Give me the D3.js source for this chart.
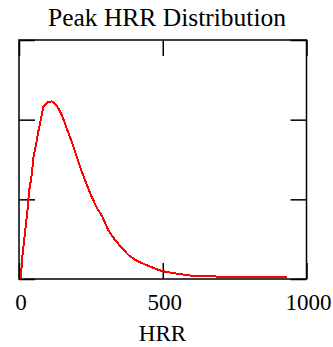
<!DOCTYPE html>
<html>
<head>
<meta charset="utf-8">
<script src="https://cdn.jsdelivr.net/npm/d3@7"></script>
<style>
	body { margin: 0; background: #fff; }
</style>
</head>
<body>
<div id="chart"></div>
<script>
// Data
var hrrValues = [5, 6, 12, 21, 29, 35, 44, 50, 59, 67, 77, 85, 99, 114, 131, 149, 166, 184, 201, 218, 236, 253, 270, 290, 311, 334, 358, 381, 404, 439, 474, 497, 544, 602, 700, 800, 933];
var density = [0, 0.00001, 0.00030, 0.00059, 0.00084, 0.00110, 0.00130, 0.00152, 0.00168, 0.00185, 0.00202, 0.00216, 0.00222, 0.00223, 0.00218, 0.00206, 0.00189, 0.00172, 0.00153, 0.00135, 0.00118, 0.00103, 0.00090, 0.00078, 0.00061, 0.00049, 0.00039, 0.00030, 0.00024, 0.00018, 0.00013, 0.00010, 0.00007, 0.00004, 0.00003, 0.00003, 0.00003];
var xTicks = [0, 500, 1000];
var xTickLabels = ["0", "500", "1000"];
var yTicks = [0, 0.001, 0.002, 0.003];
var title = "Peak HRR Distribution";
var xTitle = "HRR";

//Width and height
var w = 333;
var h = 347;
var plotLeft = 19, plotRight = 306.5, plotTop = 40, plotBottom = 279;
var tick = 16;
var serif = "'Liberation Serif', 'Times New Roman', Times, serif";

var svg = d3.select("#chart")
	.append("svg")
	.attr("width", w)
	.attr("height", h);

var x = d3.scaleLinear().domain([0, 1000]).range([plotLeft, plotRight]);
var y = d3.scaleLinear().domain([0, 0.003]).range([plotBottom, plotTop]);

// inside ticks on all four sides
function styleAxis(g) {
	g.select(".domain").remove();
	g.selectAll("line").attr("stroke", "#000").attr("stroke-width", 1.5);
	g.selectAll("text").remove();
}

svg.append("g")
	.attr("transform", "translate(0," + plotBottom + ")")
	.call(d3.axisBottom(x).tickValues(xTicks).tickSize(-tick))
	.call(styleAxis);
svg.append("g")
	.attr("transform", "translate(0," + plotTop + ")")
	.call(d3.axisTop(x).tickValues(xTicks).tickSize(-tick))
	.call(styleAxis);
svg.append("g")
	.attr("transform", "translate(" + plotLeft + ",0)")
	.call(d3.axisLeft(y).tickValues(yTicks).tickSize(-tick))
	.call(styleAxis);
svg.append("g")
	.attr("transform", "translate(" + plotRight + ",0)")
	.call(d3.axisRight(y).tickValues(yTicks).tickSize(-tick))
	.call(styleAxis);

// frame
svg.append("rect")
	.attr("x", plotLeft)
	.attr("y", plotTop)
	.attr("width", plotRight - plotLeft)
	.attr("height", plotBottom - plotTop)
	.attr("fill", "none")
	.attr("stroke", "#000")
	.attr("stroke-width", 1.5);

// the curve
var points = hrrValues.map(function(d, i) { return [d, density[i]]; });
var line = d3.line()
	.x(function(d) { return x(d[0]); })
	.y(function(d) { return y(d[1]); });

svg.append("path")
	.datum(points)
	.attr("d", line)
	.attr("fill", "none")
	.attr("stroke", "#ff0000")
	.attr("stroke-width", 2)
	.attr("shape-rendering", "crispEdges");

// tick labels
svg.selectAll("text.xlab")
	.data(xTicks)
	.enter()
	.append("text")
	.attr("class", "xlab")
	.text(function(d, i) { return xTickLabels[i]; })
	.attr("text-anchor", "middle")
	.attr("x", function(d) { return x(d) + 2; })
	.attr("y", 310)
	.attr("font-family", serif)
	.attr("font-size", "23px")
	.attr("fill", "#000");

// titles
svg.append("text")
	.text(title)
	.attr("text-anchor", "middle")
	.attr("x", 167)
	.attr("y", 26)
	.attr("font-family", serif)
	.attr("font-size", "25.5px")
	.attr("fill", "#000");

svg.append("text")
	.text(xTitle)
	.attr("text-anchor", "middle")
	.attr("x", 162.5)
	.attr("y", 341)
	.attr("font-family", serif)
	.attr("font-size", "23px")
	.attr("fill", "#000");
</script>
</body>
</html>
